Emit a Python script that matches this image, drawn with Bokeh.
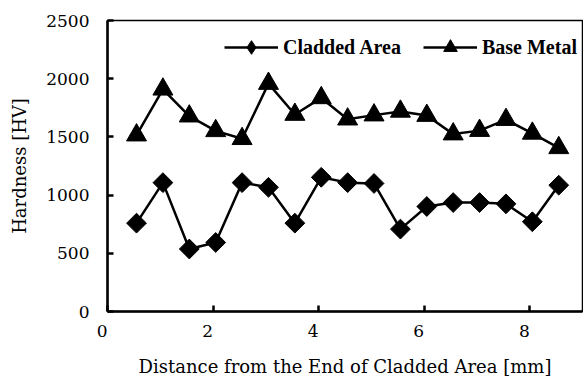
import numpy as np
from bokeh.plotting import figure
from bokeh.models import Range1d, FixedTicker, Legend, LegendItem
from bokeh.embed import file_html
from bokeh.resources import INLINE

distance = [0.55, 1.05, 1.55, 2.05, 2.55, 3.05, 3.55, 4.05, 4.55, 5.05,
            5.55, 6.05, 6.55, 7.05, 7.55, 8.05, 8.55]
cladded_area = [759, 1107, 537, 593, 1107, 1067, 759, 1153, 1107, 1100,
                708, 902, 936, 936, 925, 771, 1085]
base_metal = [1515, 1909, 1678, 1552, 1484, 1958, 1692, 1835, 1652, 1687,
              1719, 1683, 1524, 1554, 1648, 1530, 1406]
x_ticks = [0, 2, 4, 6, 8]
y_ticks = [0, 500, 1000, 1500, 2000, 2500]

AXIS_FONT = "DejaVu Serif"
LEGEND_FONT = "Liberation Serif"

p = figure(width=583, height=379, output_backend="svg", toolbar_location=None,
           x_range=Range1d(0, 9), y_range=Range1d(0, 2500),
           min_border_left=107, min_border_right=1, min_border_top=20,
           min_border_bottom=67)

p.xgrid.grid_line_color = None
p.ygrid.grid_line_color = None
p.outline_line_color = "black"
p.outline_line_width = 1.5

for ax, ticks in ((p.xaxis, x_ticks), (p.yaxis, y_ticks)):
    ax.ticker = FixedTicker(ticks=ticks)
    ax.major_tick_in = 6
    ax.major_tick_out = 0
    ax.minor_tick_line_color = None
    ax.axis_line_width = 2.5
    ax.major_tick_line_width = 2.5
    ax.axis_line_color = "black"
    ax.major_tick_line_color = "black"
    ax.major_label_text_font = AXIS_FONT
    ax.major_label_text_font_size = "17px"
    ax.major_label_text_color = "black"
    ax.axis_label_text_font = AXIS_FONT
    ax.axis_label_text_font_size = "18px"
    ax.axis_label_text_font_style = "normal"
    ax.axis_label_text_color = "black"

p.xaxis.major_label_overrides = {t: f"{t}\u00a0\u00a0" for t in x_ticks}
p.xaxis.axis_label = "Distance from the End of Cladded Area [mm]"
p.yaxis.axis_label = "Hardness [HV]"
p.xaxis.major_label_standoff = 9
p.xaxis.axis_label_standoff = 12
p.yaxis.major_label_standoff = 18
p.yaxis.axis_label_standoff = 13

l1 = p.line(distance, cladded_area, line_color="black", line_width=2.5)
s1 = p.scatter(distance, cladded_area, marker="square", angle=np.pi / 4,
               size=14, fill_color="black", line_color="black")
l2 = p.line(distance, base_metal, line_color="black", line_width=2.5)
s2 = p.scatter(distance, base_metal, marker="triangle", size=20,
               fill_color="black", line_color="black")

# legend keys (a single undrawn point each)
k1 = p.scatter([np.nan], [np.nan], marker="diamond",
               fill_color="black", line_color="black")
k2 = p.scatter([np.nan], [np.nan], marker="triangle",
               fill_color="black", line_color="black")

legend = Legend(items=[LegendItem(label="Cladded Area", renderers=[l1, k1]),
                       LegendItem(label="Base Metal", renderers=[l2, k2])],
                orientation="horizontal", location=(117, 247),
                padding=0, margin=0, spacing=22, label_standoff=5,
                glyph_width=54, glyph_height=34,
                border_line_color=None, background_fill_alpha=0,
                label_text_font=LEGEND_FONT, label_text_font_size="20px",
                label_text_font_style="bold", label_text_color="black")
p.add_layout(legend)

open("out.html", "w").write(file_html(p, INLINE))
